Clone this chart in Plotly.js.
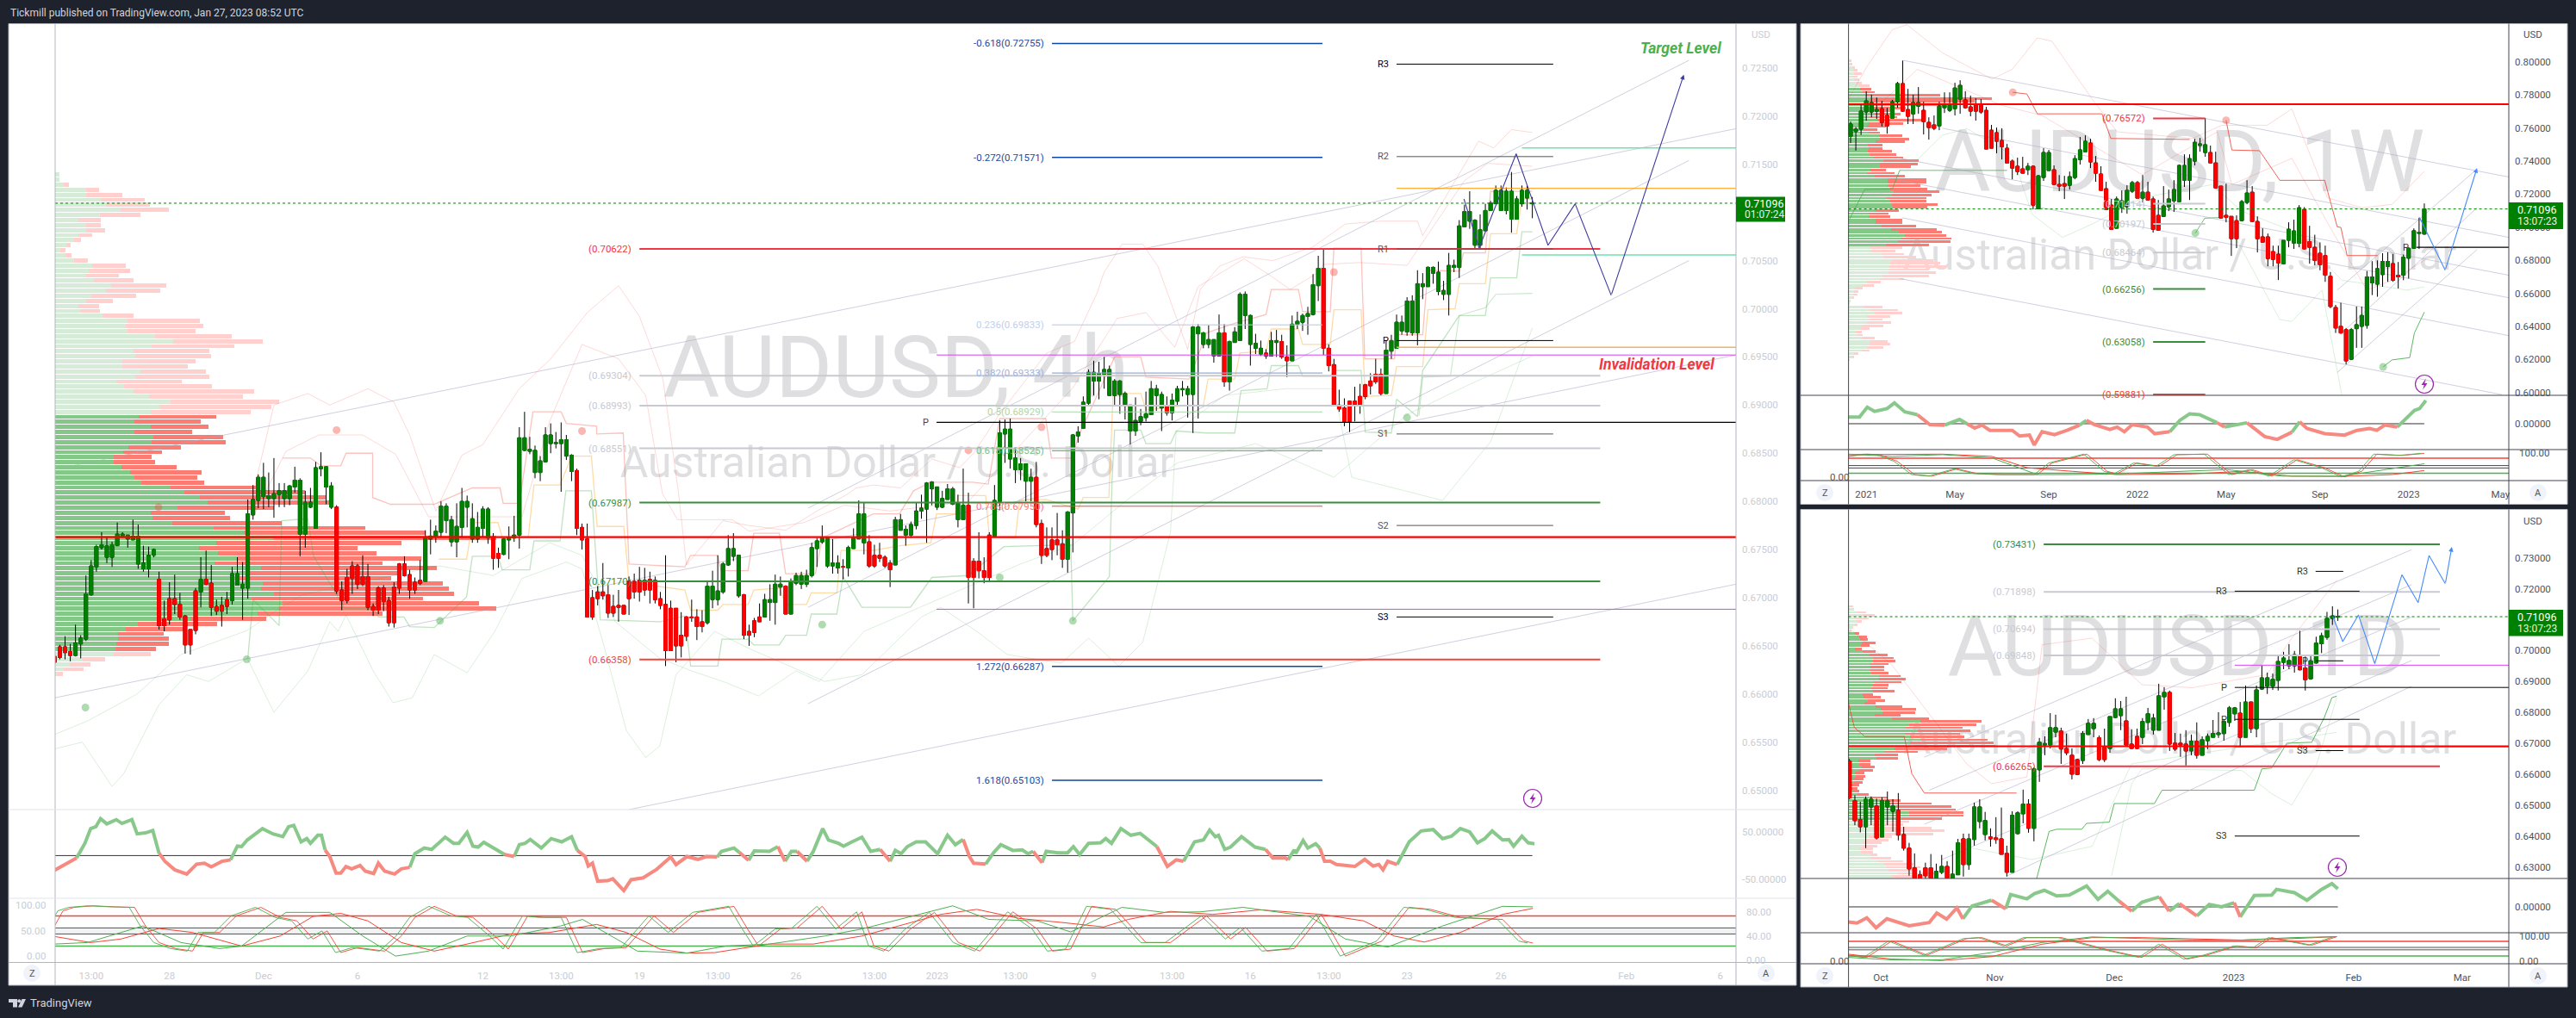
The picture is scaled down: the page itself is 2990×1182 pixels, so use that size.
<!DOCTYPE html>
<html><head><meta charset="utf-8"><title>AUDUSD multi-timeframe</title>
<script src="https://cdn.plot.ly/plotly-3.0.1.min.js"></script>
<style>html,body{margin:0;padding:0;background:#1e222d}#c{width:2990px;height:1182px}</style></head>
<body><div id="c"></div><script>
// ---------- values (prices in 1e-4 units, rows are open,high,low,close) ----------
const ohlc4h=[6639,6640,6630,6633,6649,6651,6636,6638,6649,6660,6636,6643,6644,6652,6634,6640,6640,6672,6639,6653,6652,6661,6637,6658,6657,6723,6655,6704,6703,6739,6702,6733,6732,6755,6727,6753,6752,6768,6750,6755,6742,6763,6736,6754,6742,6758,6732,6755,6754,6778,6754,6766,6764,6768,6762,6766,6761,6765,6752,6765,6760,6781,6760,6764,6735,6776,6730,6764,6730,6754,6727,6736,6730,6753,6721,6744,6744,6751,6742,6750,6719,6727,6667,6671,6678,6697,6665,6671,6699,6716,6672,6677,6699,6724,6683,6693,6693,6705,6677,6680,6681,6682,6642,6651,6667,6667,6641,6651,6707,6710,6662,6666,6706,6742,6690,6719,6719,6749,6713,6714,6715,6734,6681,6690,6691,6698,6682,6686,6692,6701,6670,6686,6698,6706,6683,6691,6697,6732,6693,6725,6713,6742,6713,6725,6710,6737,6677,6714,6710,6802,6699,6787,6786,6817,6781,6802,6801,6828,6793,6825,6805,6840,6792,6825,6803,6830,6794,6806,6803,6845,6783,6808,6807,6819,6794,6811,6803,6819,6794,6811,6803,6817,6796,6816,6815,6836,6809,6822,6766,6824,6743,6822,6766,6811,6752,6799,6794,6814,6793,6799,6772,6841,6772,6835,6834,6851,6826,6836,6815,6836,6797,6836,6794,6820,6792,6816,6794,6796,6704,6707,6708,6717,6687,6697,6721,6730,6694,6697,6733,6738,6704,6720,6733,6735,6709,6714,6722,6744,6712,6714,6722,6735,6687,6690,6691,6694,6681,6687,6710,6712,6683,6687,6710,6713,6686,6696,6697,6701,6670,6674,6711,6716,6669,6674,6735,6736,6704,6710,6735,6743,6722,6723,6724,6729,6699,6708,6716,6721,6704,6708,6718,6739,6713,6715,6717,6770,6717,6762,6761,6781,6745,6764,
6763,6775,6757,6769,6768,6800,6763,6795,6780,6798,6767,6795,6758,6785,6753,6781,6758,6798,6742,6774,6773,6814,6762,6800,6794,6806,6773,6800,6761,6798,6757,6782,6761,6789,6757,6773,6772,6795,6763,6792,6762,6794,6756,6792,6763,6767,6729,6741,6746,6752,6731,6741,6745,6762,6744,6761,6760,6774,6740,6763,6762,6785,6758,6765,6765,6877,6751,6866,6853,6893,6852,6866,6852,6867,6849,6854,6830,6858,6824,6853,6830,6847,6821,6842,6841,6877,6841,6869,6860,6881,6850,6869,6860,6872,6855,6861,6860,6882,6810,6864,6847,6869,6843,6864,6831,6849,6821,6848,6832,6834,6765,6772,6773,6777,6750,6760,6761,6777,6680,6680,6700,6708,6677,6680,6706,6712,6692,6699,6706,6736,6698,6702,6703,6713,6679,6684,6691,6703,6680,6684,6692,6708,6675,6690,6692,6692,6683,6683,6717,6722,6682,6699,6717,6725,6699,6706,6718,6732,6696,6706,6718,6731,6702,6708,6719,6727,6694,6708,6718,6722,6694,6698,6699,6706,6688,6692,6693,6744,6629,6645,6689,6697,6645,6645,6689,6689,6633,6650,6661,6685,6638,6650,6680,6681,6655,6660,6680,6698,6675,6679,6680,6688,6656,6670,6675,6687,6664,6670,6674,6717,6672,6712,6698,6728,6689,6712,6698,6744,6692,6707,6706,6737,6704,6735,6734,6765,6733,6751,6743,6767,6738,6751,6702,6744,6700,6744,6703,6704,6657,6661,6665,6672,6650,6661,6676,6679,6659,6664,6680,6694,6675,6675,6680,6704,6680,6698,6695,6714,6676,6698,6695,6724,6672,6714,6711,6722,6702,6714,6712,6713,6683,6683,6683,6720,6683,6717,6715,6726,6713,6723,6714,6727,6709,6723,6714,6729,6711,6723,6723,6757,6721,6752,6751,6762,6732,6759,6758,6775,6756,6762,6733,6763,6731,6762,6733,6761,6725,6736,6731,6744,6725,6736,6732,6740,6719,6732,
6731,6754,6722,6752,6751,6772,6751,6762,6761,6801,6761,6787,6757,6799,6745,6787,6758,6765,6731,6733,6744,6755,6731,6733,6744,6757,6737,6741,6742,6744,6731,6733,6736,6739,6711,6729,6734,6784,6734,6781,6770,6787,6770,6781,6765,6775,6754,6771,6765,6779,6762,6776,6775,6799,6771,6790,6790,6807,6782,6793,6792,6820,6757,6819,6813,6821,6796,6820,6794,6815,6791,6815,6794,6811,6793,6803,6802,6818,6802,6813,6797,6815,6796,6813,6781,6807,6773,6798,6781,6834,6781,6796,6796,6809,6694,6721,6738,6741,6689,6721,6738,6768,6720,6728,6728,6742,6715,6721,6765,6768,6716,6721,6764,6817,6764,6801,6800,6884,6791,6871,6870,6885,6840,6875,6844,6886,6834,6875,6833,6856,6819,6845,6833,6845,6822,6839,6821,6839,6800,6839,6821,6834,6800,6825,6825,6841,6773,6776,6777,6781,6735,6744,6751,6773,6742,6744,6760,6773,6739,6750,6760,6788,6744,6755,6756,6770,6731,6740,6740,6790,6726,6789,6788,6870,6747,6869,6868,6878,6861,6872,6876,6909,6876,6903,6902,6937,6900,6934,6925,6946,6910,6934,6925,6945,6906,6933,6932,6950,6917,6937,6910,6941,6910,6937,6910,6927,6900,6925,6911,6926,6891,6925,6899,6914,6885,6912,6873,6900,6859,6900,6873,6908,6868,6884,6883,6896,6879,6888,6887,6914,6883,6891,6890,6925,6890,6917,6910,6921,6894,6917,6897,6914,6873,6911,6898,6909,6889,6892,6892,6912,6884,6905,6904,6920,6900,6917,6916,6925,6909,6917,6911,6920,6887,6917,
6911,6982,6871,6981,6974,6984,6886,6981,6963,6976,6959,6975,6963,6983,6959,6968,6951,6968,6944,6968,6951,6994,6951,6975,6975,6984,6919,6924,6924,6967,6915,6966,6965,6981,6965,6976,6967,7017,6967,7015,6993,7018,6979,7015,6963,6994,6941,6993,6959,6974,6953,6964,6953,6967,6951,6959,6954,6958,6948,6951,6951,6976,6951,6967,6965,6978,6950,6967,6966,6973,6948,6950,6950,6962,6929,6946,6946,6993,6946,6984,6984,6997,6979,6987,6986,6995,6977,6993,6992,7002,6973,6995,6994,7036,6993,7025,7024,7055,7008,7042,7042,7063,6952,6959,6959,6963,6935,6941,6942,6948,6900,6900,6900,6916,6893,6896,6897,6907,6878,6883,6904,6904,6872,6883,6904,6919,6883,6899,6909,6922,6891,6899,6921,6922,6906,6909,6925,6933,6911,6920,6932,6948,6922,6924,6932,6938,6910,6912,6912,6967,6912,6957,6956,6973,6948,6967,6959,6994,6959,6986,6977,6993,6973,6986,6976,7012,6972,7008,6975,7014,6972,7008,6975,7040,6962,7026,7023,7037,7010,7026,7023,7044,7023,7043,7037,7044,7026,7043,7018,7049,7014,7038,7015,7029,7009,7019,7015,7058,6993,7045,7043,7051,7038,7045,7043,7092,7032,7086,7085,7108,7085,7101,7091,7122,7083,7101,7066,7093,7062,7092,7066,7098,7062,7082,7081,7109,7081,7102,7102,7112,7102,7110,7109,7128,7109,7123,7102,7128,7102,7123,7102,7126,7098,7122,7093,7142,7079,7122,7093,7117,7093,7114,7109,7128,7106,7123,7115,7128,7103,7123,7109,7116,7094,7110];
const ohlc1w=[7548,7638,7508,7623,7578,7605,7463,7592,7592,7739,7557,7701,7696,7821,7644,7763,7696,7800,7664,7753,7701,7784,7654,7711,7716,7763,7609,7633,7675,7722,7565,7612,7659,7769,7659,7758,7758,7878,7722,7868,7868,8007,7696,7701,7711,7836,7623,7670,7685,7800,7623,7753,7732,7847,7685,7753,7706,7758,7560,7638,7633,7664,7529,7602,7618,7675,7586,7597,7612,7758,7586,7732,7722,7815,7690,7743,7706,7815,7696,7737,7716,7873,7675,7841,7774,7888,7685,7857,7769,7821,7716,7722,7727,7795,7670,7701,7743,7779,7644,7701,7743,7774,7685,7696,7706,7727,7472,7472,7586,7618,7477,7477,7571,7602,7446,7519,7524,7597,7409,7487,7477,7503,7388,7388,7399,7409,7289,7357,7368,7420,7315,7336,7352,7425,7326,7326,7347,7388,7315,7368,7368,7373,7107,7133,7112,7315,7112,7310,7300,7477,7279,7451,7342,7467,7342,7451,7347,7373,7258,7258,7258,7315,7217,7248,7263,7310,7170,7248,7253,7336,7227,7305,7300,7435,7289,7414,7409,7545,7378,7467,7456,7555,7456,7519,7508,7534,7357,7394,7388,7430,7274,7326,7321,7368,7222,7222,7232,7274,7107,7107,7133,7170,6987,6987,6993,7185,6993,7170,7118,7222,7086,7159,7123,7253,7081,7222,7217,7279,7206,7269,7269,7279,7175,7175,7175,7315,7149,7211,7211,7274,7164,7164,7170,7185,6967,6987,7071,7164,6982,6982,7065,7248,7065,7128,7123,7227,7097,7170,7159,7284,7092,7227,7154,7378,7154,7373,7284,7440,7243,7373,7284,7440,7164,7414,7399,7534,7373,7513,7494,7539,7456,7503,7451,7659,7425,7498,7451,7493,7388,7388,7388,7456,7232,7237,7248,7248,7055,7055,7071,7263,7029,7060,7065,7065,6826,6930,7039,7071,6873,6930,7039,7164,7034,7154,7149,7284,7138,7206,7211,7248,7034,7034,7034,7065,6847,6930,6941,6993,6909,6909,6941,6961,6763,6810,6852,6888,6763,6805,6836,6888,6680,6784,6779,6920,6779,6920,6920,7029,6878,6987,6904,7045,6868,6977,6902,7133,6878,7117,7107,7121,6866,6868,6912,7008,6779,6878,6878,6954,6769,6799,6842,6908,6739,6773,6828,6888,6669,6709,6703,6729,6510,6520,6514,6530,6360,6390,6400,6543,6354,6360,6380,6390,6171,6191,6201,6390,6197,6380,6386,6520,6270,6410,6400,6520,6270,6466,6406,6735,6386,6699,6663,6794,6589,6699,6655,6799,6579,6749,6713,6842,6639,6792,6763,6848,6669,6792,6779,6838,6669,6679,6709,6789,6629,6699,6709,6834,6679,6818,6812,6878,6689,6872,6872,6992,6868,6978,6962,7057,6868,6968,6958,7143,6954,7110];
const ohlc1d=[6643,6650,6520,6524,6515,6533,6436,6451,6454,6512,6413,6431,6431,6529,6362,6520,6495,6529,6436,6520,6498,6522,6390,6395,6398,6526,6398,6515,6495,6545,6436,6515,6481,6520,6415,6498,6484,6540,6387,6404,6406,6431,6354,6362,6362,6379,6273,6295,6298,6345,6262,6265,6276,6290,6258,6262,6298,6315,6258,6273,6298,6343,6258,6265,6265,6312,6258,6287,6284,6340,6278,6303,6303,6320,6258,6265,6265,6354,6258,6278,6276,6392,6276,6379,6392,6409,6270,6309,6309,6409,6292,6392,6390,6509,6370,6495,6448,6520,6426,6495,6406,6479,6387,6451,6398,6426,6367,6392,6395,6462,6376,6390,6392,6493,6342,6342,6345,6370,6270,6284,6284,6481,6284,6468,6409,6481,6406,6476,6473,6551,6442,6504,6504,6520,6412,6426,6426,6623,6384,6618,6615,6718,6576,6704,6695,6723,6662,6700,6695,6798,6684,6751,6737,6793,6720,6751,6740,6751,6634,6682,6684,6732,6662,6670,6662,6684,6584,6601,6648,6651,6598,6600,6645,6740,6634,6732,6729,6779,6729,6765,6748,6782,6720,6765,6718,6726,6643,6648,6690,6748,6640,6648,6684,6787,6670,6787,6784,6846,6782,6812,6790,6837,6743,6812,6773,6851,6690,6695,6698,6746,6682,6684,6723,6748,6682,6684,6720,6782,6698,6771,6768,6815,6743,6796,6743,6796,6729,6782,6743,6893,6743,6854,6851,6882,6809,6865,6865,6871,6676,6698,6701,6734,6676,6682,6701,6732,6657,6695,6698,6743,6629,6676,6676,6729,6662,6707,6707,6768,6651,6662,6662,6723,6662,6712,6709,6732,6682,6723,6720,6776,6720,6732,6729,6801,6718,6734,6732,6779,6709,6771,6768,6821,6754,6815,6796,6818,6773,6815,6798,6834,6687,6720,6720,6887,6720,6834,6834,6835,6734,6748,6748,6887,6720,6873,6876,6951,6873,6912,6885,6929,6860,6912,6885,6926,6873,6907,6904,6985,6871,6965,6962,6996,6940,6976,6951,7021,6940,6968,6951,6999,6929,6987,6986,7064,6936,6938,6944,6981,6871,6906,6909,6986,6906,6967,6960,7045,6958,7024,7022,7058,6992,7048,7043,7125,7035,7104,7104,7143,7083,7112,7108,7133,7096,7110];

const vpUp4h=[4.5,4.5,10,36,36,54,59,76,52,27,36,36,27,22,13,6,12,22,43,39,36,45,65,59,42,36,27,29,55,84,82,84,116,137,112,91,93,78,78,99,93,71,80,91,109,134,121,111,97,92,111,92,114,112,85,79,68,68,77,87,92,100,134,150,168,177,142,111,113,136,184,219,253,187,167,189,211,185,239,223,213,241,239,254,228,264,260,235,157,96,82,73,73,71,70,68,32,17,10,2];
const vpDn4h=[0,0,5.5,15,42,50,51,56,47,26,17,22,16,8,5,6,7,16,39,48,38,46,64,63,52,31,24,23,36,84,90,79,89,104,96,88,88,85,76,76,86,76,102,140,109,126,130,116,90,77,67,67,81,86,61,45,44,48,64,83,73,73,99,140,147,142,112,86,90,127,176,211,259,215,184,184,214,195,204,176,177,209,218,209,199,228,252,145,88,92,68,53,59,61,47,43,26,24,23,7];
const vpUp1w=[5,8,12,15,20,12,18,25,35,40,48,60,78,70,80,75,85,90,70,100,70,65,52,70,105,110,95,68,70,68,72,88,122,108,110,75,65,92,135,135,135,145,158,150,130,145,150,155,95,70,70,95,95,115,148,175,195,185,172,130,75,75,115,120,150,145,142,140,138,118,110,65,50,22,18,15,12,5,5,55,72,92,65,72,65,45,40,25,30,50,75,72,65,45,18,12,5];
const vpAll1w=[9,12,21,30,47,32,38,45,72,78,90,320,500,440,340,200,160,180,170,255,190,130,100,110,186,210,196,118,118,150,165,190,245,240,218,130,160,195,272,272,250,275,315,288,272,272,310,275,174,138,145,186,186,234,306,324,340,358,355,280,186,162,192,235,295,320,342,280,303,280,192,112,88,50,35,32,18,8,5,118,172,186,145,118,148,122,72,45,48,90,135,145,122,72,33,20,5];
const vpUp1d=[5,20,32,50,20,28,22,12,8,22,38,40,45,42,22,50,72,85,85,75,75,72,78,107,105,88,85,78,85,48,52,68,56,95,112,118,92,152,250,210,200,240,195,215,250,215,230,160,125,90,98,35,38,45,38,22,25,15,20,10,10,15,30,75,105,110,165,170,212,210,185,120,85,85,88,90,70,60,48,50,40,42,75,80,100,125,130,140,170,150];
const vpAll1d=[17,20,60,92,70,45,30,15,10,38,63,68,93,72,45,93,135,156,162,138,125,125,138,180,200,185,138,135,159,85,113,128,95,186,234,232,180,279,462,444,396,425,387,402,485,505,510,342,240,172,172,75,75,92,85,55,57,52,50,38,30,38,70,136,180,288,357,372,400,400,325,210,190,290,335,295,150,140,115,100,85,85,100,148,190,225,250,240,310,290];

const levels4hLeft=[0.70622,0.69304,0.68993,0.68551,0.67987,0.6717,0.66358];
const levels4hFib=[0.72755,0.71571,0.69833,0.69333,0.68929,0.68525,0.6795,0.66287,0.65103];
const fibNames=['-0.618','-0.272','0.236','0.382','0.5','0.618','0.786','1.272','1.618'];
const pivots4h=[0.7254,0.7158,0.7062,0.6967,0.687,0.6775,0.668];
const pivotNames4h=['R3','R2','R1','P','S1','S2','S3'];
const lastPrice=0.71096;
const levels1w=[0.76572,0.71414,0.70197,0.68464,0.66256,0.63058,0.59881];
const levels1d=[0.73431,0.71898,0.70694,0.69848,0.66265];
const pivots1d=[0.7256,0.7192,0.6967,0.6778,0.6677,0.6401];
const pivotNames1d=['R3','R3','P','P','S3','S3'];

const tick4hI=[7,22,40,58,82,97,112,127,142,157,169,184,199,214,229,244,259,277,301,319];
const tick4hT=['13:00','28','Dec','6','12','13:00','19','13:00','26','13:00','2023','13:00','9','13:00','16','13:00','23','26','Feb','6'];
const tick1wI=[3,20,38,55,72,90,107,124.6];
const tick1wT=['2021','May','Sep','2022','May','Sep','2023','May'];
const tick1dI=[5.8,26.8,48.8,70.8,92.9,112.9];
const tick1dT=['Oct','Nov','Dec','2023','Feb','Mar'];

// CCI-like oscillators: bar position, value
const cci4hX=[0,3.2,4.2,5.8,6.9,7.9,8.8,10,11.8,12.9,14.8,15.8,17.4,18.8,20,21.1,23,25.3,27.2,28.7,30,32.1,33.7,35,35.8,36.9,39.8,41.8,43.7,44.8,45.8,47.2,48.3,49,50.4,51.1,51.8,52.7,53.9,54.8,55.8,56.9,58.5,59.5,61.1,62,63.2,65.1,66.4,68,69,70.8,72.2,74.8,76.4,77.4,79,80.1,81.1,82.2,84.8,86.2,88,89,90.1,91.1,93.2,95.1,97.1,99,100.1,101.6,102.2,103,104,105.9,106.9,109,110.4,112.7,115.3,118,119,121.1,123.2,124.8,126.9,127.7,130.1,131.1,132.9,134,136.9,138.5,139.9,141.1,142.2,144.1,145.3,147.1,148.2,150.1,151.1,152.7,154.6,156.3,158.1,160,161,162.1,163.3,165,166.8,169.1,171,172.5,174,175.2,176,178.3,179.8,181.2,183.5,185.3,186.4,187.4,189.1,189.9,192.2,194,195.1,196.3,198,200.3,201.3,202.4,204.2,206.1,207.9,209.6,211.1,213.1,214.8,216.2,218.3,220,221.2,222.3,222.9,224.1,225.2,227.3,229.9,231.9,233.3,235.7,236.2,237.4,237.7,239.1,240,241.5,242.3,243.2,244.3,245.5,249,250.9,252.5,253.6,254.4,255.3,257.1,259.4,261.7,264,265.8,267.5,269.2,271,272.5,273.9,275.3,277.3,278.5,279.4,281,282.2,283.4];
const cci4hV=[-31,-12,-5,26,57,61,78,67,76,68,76,46,48,53,5,-12,-30,-39,-18,-16,-24,-12,-9,20,19,33,57,46,40,61,64,29,36,26,43,43,12,-2,-37,-37,-23,-28,-21,-33,-38,-16,-33,-39,-28,-25,4,16,13,39,26,26,49,20,18,28,12,2,-2,23,26,34,16,36,29,40,11,-2,-22,-16,-54,-53,-49,-74,-51,-47,-29,-3,-19,-2,-8,-2,-3,9,16,7,-10,10,9,19,-12,9,9,-12,9,57,33,26,20,29,39,9,13,-12,11,4,19,29,29,4,43,23,34,-2,-16,-18,6,23,11,12,4,9,-15,9,6,6,19,2,26,27,36,26,57,43,47,33,19,-23,-9,-12,29,33,54,40,43,13,18,40,18,13,-5,-5,-9,12,5,32,16,25,16,-12,-12,-19,-23,-8,-22,-19,-30,-12,-19,29,52,55,36,41,57,50,27,36,52,33,34,20,41,27,25];
const cci1wX=[-0.4,1.7,3.2,4.6,7,8.4,10.4,12.8,15.2,18,20.9,22.3,23.8,25.2,26.7,31,32.4,34.3,35.2,36.7,39.1,41.5,43.9,45.2,46.8,49.7,51.1,52.5,54,56.9,58.3,61.2,63.1,65,66.9,70.3,71.7,76,77.5,79.4,81.8,84.6,86.1,87.5,90.9,94.7,97.1,99.5,100.9,102.4,104.8,108.1,109.1,110.3];
const cci1wV=[14,14,35,26,32,44,25,19,-2,-3,9,0,-9,-3,-14,-14,-26,-24,-45,-17,-23,-14,-3,7,-2,-12,-7,-17,-2,-7,-21,-17,7,21,19,2,-7,2,-10,-27,-33,-18,4,-10,-21,-24,-14,-10,-14,-3,-7,28,32,49];
const cci1dX=[-0.2,1.4,3.2,4.9,6.9,11,14.7,16.1,17.9,19.8,20.9,22.6,26.2,28.8,29.7,32.7,34.1,35.9,38.2,40.5,43.7,45.8,47.6,49.7,52,53.9,57.1,58.9,60.8,64,66.3,68.6,70.9,72,74.6,77.8,78.7,82,84.3,87,88.9,90];
const cci1dV=[-32,-34,-23,-44,-25,-40,-33,-13,-26,-2,-25,2,14,-4,26,17,28,35,23,25,44,16,33,12,-9,10,21,-9,7,-19,5,0,9,-21,24,25,37,30,14,37,49,38];

// stochastic-like oscillators
const fast4hX=[0,1.6,3.7,7.4,11.6,15.3,17.4,20,23.2,26.4,28.5,31.6,34.8,39.5,43.2,46.4,49.5,52.2,54.8,58,63.2,66.4,69,72.7,76.9,80.1,84.3,86.9,90.6,93.7,98,101.1,105.3,109.5,114.8,118.5,123.2,130.1,132.7,134.8,139,142.2,147,150.6,154.6,156.9,159.8,163.9,168.5,173.1,177.2,183.5,188.2,191.1,194.6,198.6,203.2,209,213.7,220.6,225.2,228.1,232.2,237.4,242.6,247.2,254.2,259.4,263.5,269.2,277.3,281.4,283.1];
const fast4hV=[60,90,97,100,98,97,60,27,15,10,47,47,80,97,77,70,34,50,7,17,10,40,77,99,80,77,40,14,80,77,77,7,15,17,80,47,87,99,54,20,54,56,99,54,88,20,10,54,87,27,10,88,54,10,14,99,93,27,27,80,34,57,10,15,83,0,30,97,93,77,73,30,26];
const slowR4hX=[0,6.9,12.7,20,26.4,35.8,43.2,49.5,54.8,60,66.4,72.7,79,87.4,94.8,103.8,109.5,115.9,121.1,126.4,136.9,145.3,154.6,161.5,169.7,176.6,184.7,192.8,200.9,205.6,213.7,221.8,231,242.6,250.7,256.5,262.3,269.2,277.3,283.1];
const slowR4hV=[39,27,34,55,47,20,40,79,85,70,27,10,24,44,47,63,47,14,6,7,24,24,40,60,83,93,75,67,58,73,89,83,92,83,70,40,28,47,83,95];
const slowG4hX=[0,6.3,16.9,24.2,31.6,35.8,44.3,52.7,59,65.3,71.6,79,87.4,96.9,101.1,111.6,121.1,128.5,136.9,147.5,154.6,167.3,172,178.9,188.2,194.6,204.4,212.5,219.4,227.6,240.3,247.2,255.3,265.8,277.3,283.1];
const slowG4hV=[24,27,60,27,15,20,87,87,40,0,10,40,40,60,73,10,6,20,24,40,54,87,100,73,70,48,97,87,88,97,79,34,18,60,99,98];
const fast1wX=[-0.4,3.2,5.6,8.9,12.3,15.6,20.4,24.3,29,35.8,38.6,45.3,49.2,51.1,54.9,59.2,62.6,68.4,73.1,77,80.8,85.6,90.9,94.7,98,100.9,105.7,110];
const fast1wV=[87,96,94,68,15,9,38,19,15,15,61,96,28,18,61,48,94,96,15,35,9,74,42,6,28,96,91,99];
const slowR1wX=[-0.4,17.6,27.1,33.9,42.5,51.1,65.5,75,84.6,94.2,103.8,110];
const slowR1wV=[94,96,87,42,28,15,18,28,9,8,15,31];
const slowG1wX=[-0.4,8,17.6,27.1,35.8,42.5,51.1,65.5,72.2,82.7,94.2,110];
const slowG1wV=[96,87,94,81,15,15,18,28,35,9,9,58];
const fast1dX=[-0.2,3.2,7.8,14.3,21.6,24.4,29,32.7,39.1,48.3,53.9,57.6,62.2,65.8,71.4,75,77.8,85.2,89.8];
const fast1dV=[23,14,81,23,91,95,61,95,95,41,14,68,7,23,61,54,95,64,99];
const slow1dX=[-0.2,7.8,17,26.2,35.5,44.7,53.9,63.1,72.3,81.5,89.8];
const slowR1dV=[27,7,1,17,68,95,95,91,85,91,99];
const slowG1dV=[14,4,4,34,75,98,91,85,85,95,99];
const stoch4hLevels=[80,56,44,20];
const stoch1wLevels=[80,51,41,20];
const stoch1dLevels=[80,55,45,20];

// projection paths, pips
const path4hX=[269.9,272.8,279.9,286,291.2,298.1,312], path4hP=[7114,7063,7161,7066,7109,7014,7243];
const path1wX=[109.1,114,120.1], path1wP=[7058,6739,7357];
const path1dX=[89.1,90.9,93.8,96.8,101.8,104.8,106.8,109.8,111], path1dP=[7109,7029,7115,6958,7245,7155,7307,7216,7335];

// trend lines: [bar0,price0,bar1,price1]
const trend4h=[[1.6,6835,322,7187],[0,6596,322,6952],[110,6480,322,6714],[144.3,6793,313,7258],[144.3,6690,313,7154],[144.3,6590,313,7050]];
const trend1w=[[10.1,8008,126.2,7303],[17.6,7598,126.2,6938],[8.9,7420,126.2,6709],[8.9,7285,126.2,6573],[9.9,7056,126.2,6344],[9.4,6689,124.9,5987],[93.3,6619,119.6,7337],[94.2,6360,120.1,7117],[93.3,6121,120.1,6864]];
const trend1d=[[13.8,6656,103.6,7326],[14.7,6549,103.6,7213],[13.8,6439,103.6,7109],[17,6325,103.6,6968],[29,6272,103.6,6885]];

// 4h stepped lines and envelopes
const stepR4hX=[43.7,49,51,54.8,55.8,60.9,60.9,64.3,72.7,80,85.3,85.9,89,91.6,97,98,103.8,103.8,108.9,110,120.7,121.8,127,127.6,132.8,133.9,138.8,140,145.7,147,156.8,161.8,164.5,167.8,175.8,178.8,181,189.8,190.9,194.8,196.1,203,208,209,217.3,220.6,226,232,233,238.2,239,244.3,245,250.2,250.9,256.6,257,262,263,269,269.8,274,275,283];
const stepR4hP=[6845,6845,6837,6837,6850,6850,6804,6797,6797,6814,6814,6798,6798,6893,6893,6881,6878,6870,6871,6735,6732,6744,6744,6728,6728,6767,6767,6725,6725,6762,6787,6787,6811,6820,6820,6818,6886,6886,6845,6845,6868,6950,6950,6929,6927,6975,6985,6994,7020,7020,6997,6997,7063,7063,6948,6948,6973,6973,7040,7039,7058,7058,7122,7122];
const stepO4hX=[73.6,78.9,80,84.9,85.7,90.7,91.8,96.8,99,102.8,103.9,109,110,120.7,121.8,127,128,132.8,133.9,138.8,140,144,144.9,149.8,150.6,156.8,161.8,167.8,168.9,172.5,173,178.3,179,184,184.8,189.8,196,197,201.9,202.7,208,209,217.3,220,220.9,226,227,232,233,238.2,239,244.3,245,250.2,251,256,257,262,263,268.2,269,274,275,280,281,283];
const stepO4hP=[6740,6740,6778,6778,6763,6763,6817,6817,6847,6847,6774,6774,6716,6708,6687,6687,6693,6693,6708,6710,6693,6693,6705,6705,6749,6749,6754,6757,6787,6787,6806,6806,6763,6762,6801,6802,6792,6804,6804,6912,6912,6895,6900,6900,6927,6927,6954,6956,6979,6979,6963,6963,6999,6999,6909,6910,6940,6940,6999,7000,7026,7026,7078,7078,7114,7114];
const stepG4hX=[37,38,43,43.5,48.5,49.6,55.6,61,62,66.9,68,72.7,78.9,80,84.9,85.7,91,91.8,96.8,97.9,102.8,103.6,104.5,116,120.7,121.8,127,127.8,132.8,133.9,138.8,140,144,144.9,149.8,151,154.6,163.9,168,174.9,181.8,194.6,195,202,202.5,203,208,209,213.7,214.8,220.6,226,227.2,232.2,233,238.2,239,244.3,245,250.2,251,256,257,261,262,269,274,275,280,281,283];
const stepG4hP=[6637,6698,6671,6780,6782,6743,6689,6689,6680,6680,6670,6669,6701,6743,6743,6729,6729,6759,6759,6811,6811,6751,6677,6675,6681,6629,6629,6657,6657,6651,6651,6661,6661,6683,6683,6722,6690,6690,6721,6723,6753,6755,6676,6722,6820,6874,6874,6860,6860,6873,6871,6871,6915,6917,6941,6941,6930,6930,6936,6936,6872,6871,6906,6888,6936,6993,6993,7032,7032,7080,7080];
const stepG24hX=[261.3,262,267.3,269,274,276,283], stepG24hP=[6889,6929,6930,6993,7001,7015,7016];
const envR14hX=[38,42,48.5,52.7,60,65,68,73,78,82,89,95,102,108,112,116.5,119.5,121,128,133,140,146,152,153.5,156.8,162,168,173.3,176,181,190,195.3,199.7,200.9,204.4,208.4,211.3,217,219.4,223,227.6,233.3,240.9,247.2,254,261,262,272.7,275.6,279,283];
const envR14hP=[6808,6900,6912,6900,6917,6903,6869,6790,6848,6859,6917,6948,6996,7024,6992,6927,6808,6734,6780,6775,6770,6790,6808,6814,6817,6814,6844,6835,6850,6891,6954,6966,7017,7037,7067,7067,7044,6958,7020,7044,7054,7050,7064,7088,7091,7091,7076,7174,7167,7186,7183];
const envR24hX=[38,44.3,50.6,59,65.3,71.6,89.5,94.8,101,108,113.2,116.4,119.3,129.8,133,143.5,151.2,160,175,190,195,203.5,209,214.5,219,224.5,227.8,232.7,236.6,241.8,243,250,259,270,274.5,283];
const envR24hP=[6784,6852,6869,6869,6849,6784,6784,6883,6963,6948,6910,6808,6781,6781,6769,6778,6796,6790,6800,6889,6918,6990,6996,6960,7023,7041,7052,7035,7020,7037,7046,7048,7045,7133,7151,7148];
const envG14hX=[0,5.3,11,13.2,20,25.3,29.5,36.9,42,48.5,52.7,54.3,55.8,61,64.8,68.5,72.7,79,84.3,89.5,98,101,105.3,109.5,113.2,115.9,119,126.4,132.7,147.5,154.6,166,169.7,176.6,182.4,192.8,198,203.8,208.4,213.7,214.8,224,235.7,245,248.4,261,265.8,275,283];
const envG14hP=[6543,6550,6504,6517,6589,6620,6613,6637,6581,6624,6675,6665,6682,6624,6591,6596,6641,6622,6665,6720,6737,6730,6648,6562,6534,6546,6620,6665,6648,6613,6620,6680,6690,6665,6641,6632,6658,6629,6654,6768,6873,6910,6917,6917,6825,6808,6801,6862,6980];
const envG24hX=[0,6.3,15.8,24.2,36.9,42,47.4,73.7,84,94.8,101,107.4,115.9,122,128.5,134.8,142,146.4,155,170,185,195,205,215,230,245,259,270.4,283];
const envG24hP=[6558,6572,6600,6641,6666,6685,6703,6733,6723,6757,6744,6675,6637,6624,6612,6598,6624,6613,6665,6700,6735,6755,6800,6840,6860,6825,6890,6920,6951];
// 1w / 1d lines
const stepR11wX=[31.1,33.8,35.8,48.2,49.9,65], stepR11wP=[7815,7805,7685,7685,7536,7530];
const stepR21wX=[72,73.1,78.4,82.3,90.9,93.3,94,95.2,101.1], stepR21wP=[7646,7466,7462,7283,7283,7002,6998,6828,6828];
const stepG11wX=[-0.2,2.7,8,9.4,30], stepG11wP=[7048,7227,7231,7343,7343];
const stepG21wX=[66.1,67.9,71.2], stepG21wP=[6964,7054,7058];
const stepG31wX=[102.1,103.8,107.2,108.1,110], stepG31wP=[6155,6197,6211,6360,6486];
const envR11wX=[-0.4,3.2,8,10.8,17.6,27.1,31,35.8,38.6,46.3,51.1,65.5,71.2,79.9,84.6,91.4,98.1,103.8,110], envR11wP=[7775,7974,8194,8224,8054,7895,7954,8144,8124,7775,7576,7536,7616,7616,7715,7177,7117,7137,7337];
const envR21wX=[1.3,8,12.8,29.1,36.7,55.9,70.3,73.1,84.6,92.3,99,103.8,110], envR21wP=[7616,7815,7954,7735,7675,7317,7576,7257,7416,6978,6619,6679,6799];
const envG11wX=[11.8,17.6,22.3,31,34.8,40.6,46.3,55.9,69.3,75,84.6,94.2,106.7,110], envG11wP=[7376,7556,7596,7436,7077,6938,7018,7177,7257,7097,6978,6679,6619,6639];
const envG21wX=[73.1,82.3,84.6,90.4,94.2], envG21wP=[6978,6440,6430,6619,5981];
const stepR1dX=[-0.2,0.9,2.8,10.1,11.5,13.8,30.8], stepR1dP=[6832,6752,6723,6723,6602,6540,6540];
const stepG1dX=[34.5,36.8,38.2,42.8,43.7,47.9,48.8,56.2,57.6,74.6,76,77.8,80.6,85.2,87.5,88.9,89.8], stepG1dP=[6264,6416,6423,6423,6442,6446,6506,6506,6549,6549,6618,6621,6701,6704,6784,6848,6853];
const envR1dX=[0,7.8,15.2,21.6,26.2,32.7,35.5,44.7,53.9,63.1,71.4,76.9,81.5,89.8], envR1dP=[7072,6954,6784,6634,6570,6592,7019,7040,6890,6880,6906,6922,7040,7227];
const envG11dX=[48.3,52,53.9,72.3,77.8,81.5,86.1,89.8], envG11dP=[6272,6570,6618,6613,6538,6501,6634,6848];
const envG21dX=[22.6,33.6,44.7,52,89.8], envG21dP=[6362,6325,6368,6634,6736];
// dots
const dotsR4hX=[19.9,54,101,175,189,245], dotsR4hP=[6794,6874,6873,6853,6877,7038];
const dotsG4hX=[5.9,36.8,73.8,147,181,195,259], dotsG4hP=[6586,6636,6676,6672,6721,6676,6887];
const dotsR1wX=[31.1,72], dotsR1wP=[7815,7646];
const dotsG1wX=[66.1,102.1], dotsG1wP=[6964,6155];

// ---------- helpers ----------
const W=2990,H=1182;
const px=x=>x/W, py=y=>1-y/H;
const pip=v=>v/1e4;
const FONT='Roboto, "Liberation Sans", sans-serif';
const layout={width:W,height:H,margin:{l:0,r:0,t:0,b:0},paper_bgcolor:'#1e222d',plot_bgcolor:'rgba(0,0,0,0)',showlegend:false,barmode:'stack',bargap:0,boxgap:0.36,boxgroupgap:0,dragmode:false,hovermode:false,font:{family:FONT},annotations:[],shapes:[]};
const traces=[];
let xn=0,yn=0;
function addX(o){xn++;layout['xaxis'+(xn===1?'':xn)]=o;return 'x'+(xn===1?'':xn);}
function addY(o){yn++;layout['yaxis'+(yn===1?'':yn)]=o;return 'y'+(yn===1?'':yn);}
function text(x,y,t,size,color,xa){layout.annotations.push({xref:'paper',yref:'paper',x:px(x),y:py(y),text:t,showarrow:false,xanchor:xa||'left',yanchor:'middle',font:{size,color,family:FONT}});}
function rect(x0,y0,x1,y1,o){layout.shapes.push(Object.assign({type:'rect',xref:'paper',yref:'paper',x0:px(x0),x1:px(x1),y0:py(y0),y1:py(y1),line:{width:0}},o));}
function seg(x0,y0,x1,y1,color,w){layout.shapes.push({type:'line',xref:'paper',yref:'paper',x0:px(x0),x1:px(x1),y0:py(y0),y1:py(y1),line:{color,width:w||1}});}
function circ(cx,cy,r,o){layout.shapes.push(Object.assign({type:'circle',xref:'paper',yref:'paper',x0:px(cx-r),x1:px(cx+r),y0:py(cy+r),y1:py(cy-r)},o));}
function poly(pts,color,closed){const d=pts.map((p,i)=>(i?'L':'M')+px(p[0])+','+py(p[1])).join(' ')+(closed?' Z':'');layout.shapes.push({type:'path',xref:'paper',yref:'paper',path:d,fillcolor:color,line:{width:0}});}
function unpack(f){const o=[],h=[],l=[],c=[];for(let i=0;i<f.length;i+=4){o.push(pip(f[i]));h.push(pip(f[i+1]));l.push(pip(f[i+2]));c.push(pip(f[i+3]));}return {o,h,l,c};}

function panel(cfg){
  const {L,R,T,B1,B2,B3,Bot}=cfg;
  const dx=[px(L),px(R)];
  rect(cfg.frameL,T,cfg.frameR,Bot,{fillcolor:'#ffffff',layer:'below',line:{color:'#b2b5be',width:1}});
  const ym=addY({});const yKey=n=>'yaxis'+n.slice(1);
  const base={domain:dx,visible:false,fixedrange:true};
  const xW=addX(Object.assign({},base,{range:[0,R-L],anchor:ym}));
  const xV=addX(Object.assign({},base,{range:[0,(R-L)*cfg.vpScale],anchor:ym,overlaying:xW}));
  const xF=addX(Object.assign({},base,{range:cfg.xr,anchor:ym,overlaying:xW}));
  const xC=addX(Object.assign({},base,{range:cfg.xr,anchor:ym,overlaying:xW,rangeslider:{visible:false}}));
  Object.assign(layout[yKey(ym)],{domain:[py(B1),py(T)],range:cfg.yr,anchor:xW,side:'right',showgrid:false,zeroline:false,showline:false,ticks:'',tickmode:'array',tickvals:cfg.yt,ticktext:cfg.yt.map(v=>v.toFixed(5)),tickfont:{size:11.5,color:cfg.tick,family:FONT},ticklabelstandoff:6,fixedrange:true});
  const yc=addY({domain:[py(B2),py(B1)],range:cfg.ccir,side:'right',showgrid:false,zeroline:false,ticks:'',tickmode:'array',tickvals:cfg.ccit,ticktext:cfg.ccit.map(v=>v.toFixed(5)),tickfont:{size:11.5,color:cfg.tick,family:FONT},ticklabelstandoff:6,fixedrange:true});
  const xc=addX(Object.assign({},base,{range:cfg.xr,anchor:yc}));
  layout[yKey(yc)].anchor=xc;
  const ys=addY({domain:[py(B3),py(B2)],range:cfg.str,visible:false,fixedrange:true});
  const xs=addX({domain:dx,range:cfg.xr,anchor:ys,showgrid:false,zeroline:false,showline:false,ticks:'',tickmode:'array',tickvals:cfg.ti,ticktext:cfg.tt,tickfont:{size:11.5,color:cfg.tick,family:FONT},ticklabelstandoff:7,fixedrange:true});
  layout[yKey(ys)].anchor=xs;

  const P=(y)=>cfg.yr[1]-(y-T)/(B1-T)*(cfg.yr[1]-cfg.yr[0]);
  // watermarks
  cfg.wm.forEach(m=>traces.push({type:'scatter',mode:'text',x:[m.cx-L],y:[P(m.cy)],text:[m.t],textposition:'middle center',textfont:{size:m.s,color:'#dfdfe1',family:FONT},xaxis:xW,yaxis:ym,hoverinfo:'skip',cliponaxis:false}));
  // volume profile
  const n=cfg.up.length,step=(cfg.vpTop-cfg.vpBot)/(n-1);
  const yy=cfg.up.map((_,i)=>pip(cfg.vpTop-i*step));
  const sat=i=>i>=cfg.sat[0]&&i<=cfg.sat[1];
  traces.push({type:'bar',orientation:'h',x:cfg.up,y:yy,width:pip(step*cfg.vpFill),marker:{color:cfg.up.map((_,i)=>sat(i)?'#83c886':'#d6ebd8'),line:{width:0}},xaxis:xV,yaxis:ym,hoverinfo:'skip'});
  traces.push({type:'bar',orientation:'h',x:cfg.dn,y:yy,width:pip(step*cfg.vpFill),marker:{color:cfg.dn.map((_,i)=>sat(i)?'#fb7c72':'#ffd0cd'),line:{width:0}},xaxis:xV,yaxis:ym,hoverinfo:'skip'});
  // faint lines (under the candles)
  const line=(ax,xs_,ps,color,w,dash,mode)=>traces.push({type:'scatter',mode:mode||'lines',x:xs_,y:ps.map(pip),line:{color,width:w||1,dash:dash||'solid'},xaxis:ax,yaxis:ym,hoverinfo:'skip',cliponaxis:true});
  cfg.faint.forEach(f=>line(xF,f[0],f[1],f[2],f[3]));
  cfg.trend.forEach(t=>line(xF,[t[0],t[2]],[t[1],t[3]],'rgba(170,168,195,0.55)',cfg.trendW));
  const dots=(a,b,c)=>traces.push({type:'scatter',mode:'markers',x:a,y:b.map(pip),marker:{size:9,color:c,line:{width:0}},xaxis:xF,yaxis:ym,hoverinfo:'skip'});
  dots(cfg.dotsR[0],cfg.dotsR[1],'rgba(244,80,70,0.42)');dots(cfg.dotsG[0],cfg.dotsG[1],'rgba(76,175,80,0.45)');
  // candles
  const d=unpack(cfg.ohlc),ix=d.o.map((_,i)=>i);
  traces.push({type:'candlestick',x:ix,open:d.o,high:d.h,low:d.l,close:d.c,xaxis:xC,yaxis:ym,increasing:{line:{color:'#000',width:1},fillcolor:'#000'},decreasing:{line:{color:'#000',width:1},fillcolor:'#000'},hoverinfo:'skip'});
  traces.push({type:'candlestick',x:ix,open:d.o,close:d.c,high:d.o.map((v,i)=>Math.max(v,d.c[i])),low:d.o.map((v,i)=>Math.min(v,d.c[i])),xaxis:xC,yaxis:ym,increasing:{line:{color:'#008000',width:1},fillcolor:'#008000'},decreasing:{line:{color:'#ff0000',width:1},fillcolor:'#ff0000'},hoverinfo:'skip'});
  // levels
  cfg.levels.forEach(l=>{traces.push({type:'scatter',mode:'lines',x:[l[1],l[2]],y:[l[0],l[0]],line:{color:l[3],width:l[4],dash:l[5]||'solid'},xaxis:xC,yaxis:ym,hoverinfo:'skip'});
    if(l[6])layout.annotations.push({xref:xC,yref:ym,x:l[1],y:l[0],text:l[6],showarrow:false,xanchor:'right',yanchor:'middle',xshift:-7,font:{size:l[7]||11.5,color:l[8]||l[3],family:FONT}});});
  // projection
  const pn=cfg.path[0].length;
  line(xC,cfg.path[0].slice(0,pn-1),cfg.path[1].slice(0,pn-1).map(v=>v),cfg.pathC,1.1);
  layout.annotations.push({xref:xC,yref:ym,axref:xC,ayref:ym,x:cfg.path[0][pn-1],y:pip(cfg.path[1][pn-1]),ax:cfg.path[0][pn-2],ay:pip(cfg.path[1][pn-2]),text:'',showarrow:true,arrowhead:2,arrowsize:1,arrowwidth:1.1,arrowcolor:cfg.pathC});
  // CCI
  const gx=[],gv=[],rx=[],rv=[];let prev=null;
  for(let k=1;k<cfg.cci[0].length;k++){const c=cfg.cci[1][k]>=0?'g':'r';const X=c==='g'?gx:rx,V=c==='g'?gv:rv;if(prev!==c){X.push(null);V.push(null);X.push(cfg.cci[0][k-1]);V.push(cfg.cci[1][k-1]);}X.push(cfg.cci[0][k]);V.push(cfg.cci[1][k]);prev=c;}
  traces.push({type:'scatter',mode:'lines',x:[cfg.xr[0],cfg.lastBar],y:[0,0],line:{color:'#333',width:1},xaxis:xc,yaxis:yc,hoverinfo:'skip'});
  traces.push({type:'scatter',mode:'lines',x:gx,y:gv,line:{color:'#88c98b',width:4},connectgaps:false,xaxis:xc,yaxis:yc,hoverinfo:'skip'});
  traces.push({type:'scatter',mode:'lines',x:rx,y:rv,line:{color:'#f78a80',width:4},connectgaps:false,xaxis:xc,yaxis:yc,hoverinfo:'skip'});
  // stochastic
  const sl=(x,y,c,w)=>traces.push({type:'scatter',mode:'lines',x,y,line:{color:c,width:w||0.9},xaxis:xs,yaxis:ys,hoverinfo:'skip'});
  const lv=cfg.stLevels,ends=[cfg.xr[0],cfg.xr[1]];
  traces.push({type:'scatter',mode:'lines',x:ends,y:[lv[1],lv[1]],line:{color:'#555',width:1},xaxis:xs,yaxis:ys,hoverinfo:'skip'});
  traces.push({type:'scatter',mode:'lines',x:ends,y:[lv[2],lv[2]],line:{color:'#555',width:1},fill:'tonexty',fillcolor:'rgba(120,123,134,0.1)',xaxis:xs,yaxis:ys,hoverinfo:'skip'});
  sl(ends,[lv[0],lv[0]],'#f44336',1.5);sl(ends,[lv[3],lv[3]],'#4caf50',1.5);
  sl(cfg.fast[0],cfg.fast[1],'#f44336');sl(cfg.fast[0].map(v=>v-cfg.lead),cfg.fast[1],'#4caf50');
  sl(cfg.slowR[0],cfg.slowR[1],'#f44336',1);sl(cfg.slowG[0],cfg.slowG[1],'#4caf50',1);

  // frames
  const col=cfg.sep;
  seg(L,T,L,Bot,cfg.axisC);seg(R,T,R,Bot,cfg.axisC);
  seg(cfg.frameL,B1,cfg.frameR,B1,col);seg(cfg.frameL,B2,cfg.frameR,B2,col);seg(cfg.frameL,B3,cfg.frameR,B3,cfg.axisC);
  // bolt
  const bx=cfg.bolt[0],by=cfg.bolt[1];
  circ(bx,by,10.5,{fillcolor:'rgba(255,255,255,0)',line:{color:'#9c27b0',width:1.2}});
  poly([[bx+1.8,by-6.5],[bx-3.5,by+1],[bx-0.3,by+1],[bx-1.8,by+6.5],[bx+3.5,by-1],[bx+0.3,by-1]],'#9c27b0',true);
  // buttons
  [[cfg.zx,'Z'],[cfg.ax,'A']].forEach(b=>{circ(b[0],cfg.btnY,10,{fillcolor:'#f0f3fa',line:{width:0}});text(b[0],cfg.btnY,b[1],11,'#555','center');});
  text((R+cfg.frameR)/2-6,cfg.usdY,'USD',11.5,cfg.tick,'center');
  // price box
  rect(R,cfg.box[0],R+cfg.box[2],cfg.box[1],{fillcolor:'#008000'});
  text(R+8,cfg.box[0]+(cfg.box[1]-cfg.box[0])*0.28,lastPrice.toFixed(5),12.5,'#fff');
  text(R+8,cfg.box[0]+(cfg.box[1]-cfg.box[0])*0.72,cfg.timer,12,'#e0f0e0');
}

const cLight='#c8cad0',cRed='#f23645',cGreen='#388e3c',cOr='#ff9800',cMag='#d940f2';
panel({frameL:10,frameR:2085,L:64,R:2015,T:27.5,B1:940,B2:1043,B3:1117.5,Bot:1144,xr:[0.1,322],yr:[0.648,0.7296],
  yt:[0.65,0.655,0.66,0.665,0.67,0.675,0.68,0.685,0.69,0.695,0.7,0.705,0.71,0.715,0.72,0.725],
  ccir:[-90.3,97.3],ccit:[50,-50],str:[-12.6,115],ti:tick4hI,tt:tick4hT,tick:'#c9ccd3',sep:'#e0e3eb',axisC:'#b2b5be',trendW:1,
  vpScale:1,up:vpUp4h,dn:vpDn4h,vpTop:7139.3,vpBot:6620.5,vpFill:0.83,sat:[48,94],
  wm:[{cx:1040,cy:436,t:'AUDUSD, 4h',s:101},{cx:1041,cy:541,t:'Australian Dollar / U.S. Dollar',s:50}],
  faint:[[envR14hX,envR14hP,'rgba(244,67,54,0.2)'],[envR24hX,envR24hP,'rgba(244,67,54,0.2)'],[envG14hX,envG14hP,'rgba(76,175,80,0.2)'],[envG24hX,envG24hP,'rgba(76,175,80,0.2)'],[stepR4hX,stepR4hP,'rgba(244,67,54,0.32)',1.3],[stepO4hX,stepO4hP,'rgba(255,152,0,0.35)',1.3],[stepG4hX,stepG4hP,'rgba(76,175,80,0.35)',1.3],[stepG24hX,stepG24hP,'rgba(76,175,80,0.3)',1.1]],
  trend:trend4h,dotsR:[dotsR4hX,dotsR4hP],dotsG:[dotsG4hX,dotsG4hP],ohlc:ohlc4h,
  levels:[
    [levels4hLeft[0],112,296,cRed,2,'solid','(0.70622)'],[levels4hLeft[1],112,296,cLight,2,'solid','(0.69304)'],[levels4hLeft[2],112,296,cLight,2,'solid','(0.68993)'],[levels4hLeft[3],112,296,cLight,2,'solid','(0.68551)'],
    [levels4hLeft[4],112,296,cGreen,2,'solid','(0.67987)'],[levels4hLeft[5],112,296,cGreen,2,'solid','(0.67170)'],[levels4hLeft[6],112,296,'#f44336',2,'solid','(0.66358)'],
    ...levels4hFib.map((v,i)=>[v,191,242.8,['#0d47a1','#0d47a1','#b6c6e6','#93abdb','#a9d8ab','#6fb872','#f44336','#0d47a1','#0d47a1'][i],[1.5,1.5,1,1.2,1,1.2,1,1.5,1.5][i],'solid',fibNames[i]+'('+v.toFixed(5)+')',11.5,['#1c4aa0','#1c4aa0','#c0cfea','#9fb4de','#a9d8ab','#7cc07f','#f77','#1c4aa0','#1c4aa0'][i]]),
    ...pivots4h.map((v,i)=>[v,257,287,['#000','#555','#555','#000','#555','#555','#000'][i],1,'solid',pivotNames4h[i],11,['#000','#555','#555','#000','#555','#555','#000'][i]]),
    [0.6882,168.9,322,'#000',1.2,'solid','P',11,'#444'],[0.6952,168.9,322,cMag,1],[0.6688,168.9,322,cMag,1],
    [0.7125,257,322,cOr,1],[0.696,257,322,'#f2b45a',1.6],[0.7167,281,322,'#6fe3ae',1.5],[0.7056,281,322,'#6fe3ae',1.5],
    [0.6763,0.1,322,'#ff0000',2.2],[lastPrice,0.1,322,'#008000',1,'dot']],
  path:[path4hX,path4hP],pathC:'#3d3a9e',cci:[cci4hX,cci4hV],stLevels:stoch4hLevels,fast:[fast4hX,fast4hV],lead:1,slowR:[slowR4hX,slowR4hV],slowG:[slowG4hX,slowG4hV],lastBar:283,
  bolt:[1779,927],zx:37,ax:2050,btnY:1130,usdY:40,box:[228.5,257.6,57],timer:'01:07:24'});

panel({frameL:2090,frameR:2980,L:2145.6,R:2912,T:27.5,B1:459,B2:522,B3:558,Bot:585.5,xr:[-0.4,126.2],yr:[0.5983,0.823],
  yt:[0.6,0.62,0.64,0.66,0.68,0.7,0.72,0.74,0.76,0.78,0.8],ccir:[-54.6,60],ccit:[0],str:[-8.5,114],ti:tick1wI,tt:tick1wT,tick:'#50535e',sep:'#434651',axisC:'#434651',trendW:1,
  vpScale:3,up:vpUp1w,dn:vpAll1w.map((v,i)=>Math.max(0,v-vpUp1w[i])),vpTop:8004,vpBot:6197,vpFill:0.78,sat:[9,59],
  wm:[{cx:2530,cy:197,t:'AUDUSD, 1W',s:100},{cx:2530,cy:300,t:'Australian Dollar / U.S. Dollar',s:50}],
  faint:[[envR11wX,envR11wP,'rgba(244,67,54,0.2)'],[envR21wX,envR21wP,'rgba(244,67,54,0.2)'],[envG11wX,envG11wP,'rgba(76,175,80,0.2)'],[envG21wX,envG21wP,'rgba(76,175,80,0.2)'],[stepR11wX,stepR11wP,'rgba(240,70,60,0.85)'],[stepR21wX,stepR21wP,'rgba(240,70,60,0.85)'],[stepG11wX,stepG11wP,'rgba(76,175,80,0.8)'],[stepG21wX,stepG21wP,'rgba(76,175,80,0.8)'],[stepG31wX,stepG31wP,'rgba(76,175,80,0.9)']],
  trend:trend1w,dotsR:[dotsR1wX,dotsR1wP],dotsG:[dotsG1wX,dotsG1wP],ohlc:ohlc1w,
  levels:[...levels1w.map((v,i)=>[v,58,68,[cRed,cLight,cLight,cLight,cGreen,cGreen,'#f44336'][i],2,'solid','('+v.toFixed(5)+')',11.5,['#f23645','#c8cad0','#c8cad0','#c8cad0','#388e3c','#388e3c','#f44336'][i]]),
    [0.6878,108.5,126.2,'#000',1.2,'solid','P',11,'#333'],[0.7743,-0.4,126.2,'#ff0000',2.2],[lastPrice,-0.4,126.2,'#008000',1,'dot']],
  path:[path1wX,path1wP],pathC:'#448aff',cci:[cci1wX,cci1wV],stLevels:stoch1wLevels,fast:[fast1wX,fast1wV],lead:0.6,slowR:[slowR1wX,slowR1wV],slowG:[slowG1wX,slowG1wV],lastBar:110,
  bolt:[2814,446],zx:2118,ax:2946,btnY:572,usdY:40,box:[235,266,63],timer:'13:07:23'});

panel({frameL:2090,frameR:2980,L:2145.6,R:2912,T:591.5,B1:1020,B2:1083,B3:1119,Bot:1146,xr:[-0.17,121.5],yr:[0.6264,0.7456],
  yt:[0.63,0.64,0.65,0.66,0.67,0.68,0.69,0.7,0.71,0.72,0.73],ccir:[-54.6,60],ccit:[0],str:[-12,115],ti:tick1dI,tt:tick1dT,tick:'#50535e',sep:'#434651',axisC:'#434651',trendW:1,
  vpScale:3,up:vpUp1d,dn:vpAll1d.map((v,i)=>Math.max(0,v-vpUp1d[i])),vpTop:7143,vpBot:6271,vpFill:0.78,sat:[9,70],
  wm:[{cx:2528,cy:759,t:'AUDUSD, 1D',s:98},{cx:2530,cy:862,t:'Australian Dollar / U.S. Dollar',s:50}],
  faint:[[envR1dX,envR1dP,'rgba(244,67,54,0.2)'],[envG11dX,envG11dP,'rgba(76,175,80,0.2)'],[envG21dX,envG21dP,'rgba(76,175,80,0.2)'],[stepR1dX,stepR1dP,'rgba(240,70,60,0.85)'],[stepG1dX,stepG1dP,'rgba(76,175,80,0.9)']],
  trend:trend1d,dotsR:[[],[]],dotsG:[[],[]],ohlc:ohlc1d,
  levels:[[levels1d[0],35.8,108.8,cGreen,2,'solid','(0.73431)',11.5,'#388e3c'],[levels1d[1],35.8,108.8,cLight,2,'solid','(0.71898)'],[levels1d[2],35.8,108.8,cLight,2,'solid','(0.70694)'],[levels1d[3],35.8,108.8,cLight,2,'solid','(0.69848)'],[levels1d[4],35.8,108.8,cRed,2,'solid','(0.66265)'],
    [pivots1d[0],85.9,91,'#000',1,'solid',pivotNames1d[0],11,'#333'],[pivots1d[1],71,94,'#000',1,'solid',pivotNames1d[1],11,'#333'],[pivots1d[2],85.9,91,'#000',1,'solid',pivotNames1d[2],11,'#333'],[pivots1d[3],71,94,'#000',1,'solid',pivotNames1d[3],11,'#333'],[pivots1d[4],85.9,91,'#000',1,'solid',pivotNames1d[4],11,'#333'],[pivots1d[5],71,94,'#000',1,'solid',pivotNames1d[5],11,'#333'],
    [0.6881,71,121.5,'#000',1,'solid','P',11,'#333'],[0.6953,71,121.5,cMag,1],[0.6689,71,121.5,cMag,1.2],[0.6691,-0.17,121.5,'#ff0000',2.2],[lastPrice,-0.17,121.5,'#008000',1,'dot']],
  path:[path1dX,path1dP],pathC:'#448aff',cci:[cci1dX,cci1dV],stLevels:stoch1dLevels,fast:[fast1dX,fast1dV],lead:0.6,slowR:[slow1dX,slowR1dV],slowG:[slow1dX,slowG1dV],lastBar:90,
  bolt:[2713,1007],zx:2118,ax:2946,btnY:1133,usdY:605,box:[708,738.5,63],timer:'13:07:23'});

// free-standing text
text(10,15,'Tickmill published on TradingView.com, Jan 27, 2023 08:52 UTC',12,'#d1d4dc');
text(1902,55.5,'<b><i>Target Level</i></b>',17.5,'#4caf50');
text(1854,423,'<b><i>Invalidation Level</i></b>',17.5,'#f23645');
[['100.00',1051],['50.00',1081],['0.00',1110]].forEach(a=>text(55,a[1],a[0],11.5,'#c9ccd3','right'));
[['80.00',1059],['40.00',1087],['0.00',1115]].forEach(a=>text(2025,a[1],a[0],11.5,'#c9ccd3'));
text(2122,554,'0.00',11.5,'#50535e');text(2922,526,'100.00',11.5,'#50535e');
text(2122,1115.5,'0.00',11.5,'#50535e');text(2922,1087,'100.00',11.5,'#50535e');text(2922,1116,'0.00',11.5,'#50535e');
// logo
poly([[10,1160],[20,1160],[20,1169.5],[15,1169.5],[15,1164],[10,1164]],'#d1d4dc',true);
circ(22.3,1162.2,2,{fillcolor:'#d1d4dc',line:{width:0}});
poly([[25.5,1160],[30,1160],[25.5,1169.5],[21,1169.5]],'#d1d4dc',true);
text(33,1164.5,'TradingView',13,'#d1d4dc');

Plotly.newPlot('c',traces,layout,{staticPlot:true,displayModeBar:false,responsive:false});
</script></body></html>
